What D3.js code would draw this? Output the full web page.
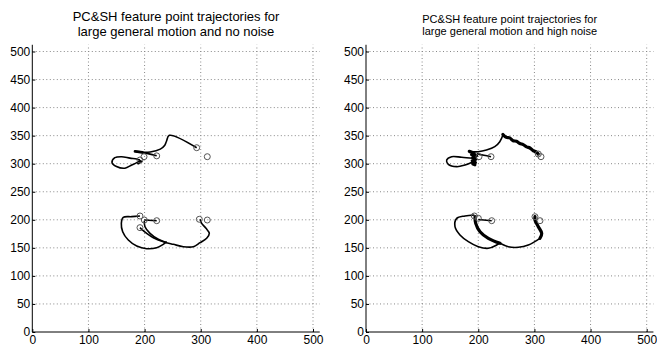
<!DOCTYPE html>
<html><head><meta charset="utf-8">
<script src="https://cdn.jsdelivr.net/npm/d3@7"></script>
<style>body{margin:0;background:#fff}svg{display:block}text{font-family:"Liberation Sans",Arial,sans-serif;fill:#000}</style>
</head><body>
<script>
// ---- data ----
const xTicks = [0,100,200,300,400,500];
const yTicks = [0,50,100,150,200,250,300,350,400,450,500];
const titlesLeft = ["PC&SH feature point trajectories for","large general motion and no noise"];
const titlesRight = ["PC&SH feature point trajectories for","large general motion and high noise"];

// left panel (no noise) trajectories
const leftTraj = [
  [[292.8,328.5],[244,350.6],[239,340],[236,333],[228,326],[210,321],[186,321]],
  [[221.6,314],[208,317.5],[195,320]],
  [[191.8,306.6],[186,308.5],[174,310],[159,312.5],[147,310.7],[142,302],[150,295],[165,292],[177,297.7],[186,302],[192,306]],
  [[191.8,206.8],[177,205.6],[162,204.4],[158.6,193.7],[161,178.8],[171,164],[186,153.3],[203.8,148.5],[221.6,150.3],[233.4,156.3],[239.4,161]],
  [[191.8,186],[194.9,183],[203.8,175.9],[215.6,168.1],[233.4,161],[251.2,156.3],[269,152],[286.8,152],[298.7,159.2],[310.6,167],[315.3,175.9],[309.4,184.8],[301.7,193.7],[298.7,200.9]],
  [[199.5,198.4],[200.7,187.7],[209.7,175.9],[224.4,165.2],[239.4,159.2]],
  [[199.5,199.6],[221.6,198.4]]
];
const leftHeavy = [
  [[183,322],[190,321],[196,320]],
  [[189,301],[193,304]]
];
const leftCircles = [[199,312.5],[221.6,314],[292.8,328.5],[311.7,312.5],[191.8,306.6],
  [191.8,206.8],[199.5,199.6],[221.6,198.4],[191.8,186],[297.5,200.9],[311.7,199.6]];

// right panel (high noise) trajectories
const rightTraj = [
  [[244.6,353],[238.3,339.2],[229.4,330.3],[214.6,324.4],[199.6,321.4],[184.8,321.4]],
  [[222.7,312.5],[210,315],[197,318]],
  [[191.2,309.6],[170.4,311.4],[152.6,312.5],[143.7,306.6],[146.6,298.9],[161.6,294.7],[176.3,297.7],[191.2,303.6]],
  [[193,208.6],[176.3,206.8],[161.6,202.6],[158.5,187.7],[167.4,172.9],[182.3,161],[200.1,152],[217.9,149.2],[232.8,155.1],[238.7,159.2]],
  [[238.7,158.1],[253.5,152],[271.3,151],[289.1,155.1],[309.9,167]],
  [[200.1,200.5],[223.9,198.4]]
];
const rightHeavy = [
  [[244,352],[250,347],[256,346],[262,341],[268,340],[274,336],[280,334],[286,330],[292,328],[298,323],[303,321],[307,317]],
  [[184,322],[193,318],[188,316],[197,314],[190,311],[196,308],[189,305],[195,302],[190,300],[194,298]],
  [[194.2,205.6],[195.4,193.7],[203.1,178.8],[217.9,167],[238.7,158.1]],
  [[301,205.6],[301,199.6],[306.9,187.7],[313,175.9],[309.9,167]]
];
const rightCircles = [[201.3,312.5],[222.7,312.5],[311.7,312.5],[306.9,317.3],
  [193,206.8],[200.1,202.7],[223.9,198.4],[309.9,198.4],[301,205.5]];

// ---- drawing ----
const W = 657, H = 347;
const svg = d3.select("body").append("svg").attr("width", W).attr("height", H);

function panel(x0, titles, titleSize, t1y, t2y, traj, heavy, heavyW, circles) {
  const x = d3.scaleLinear().domain([0,512]).range([x0, x0 + 512*0.5614]);
  const y = d3.scaleLinear().domain([0,512]).range([332, 332 - 512*0.561]);
  const g = svg.append("g");
  // grid
  g.selectAll(".gx").data(xTicks.filter(d=>d>0)).enter().append("line")
    .attr("x1", d=>x(d)).attr("x2", d=>x(d)).attr("y1", y(0)).attr("y2", y(512))
    .attr("stroke", "#888").attr("stroke-dasharray", "1,2.5");
  g.selectAll(".gy").data(yTicks.filter(d=>d>0)).enter().append("line")
    .attr("y1", d=>y(d)).attr("y2", d=>y(d)).attr("x1", x(0)).attr("x2", x(512))
    .attr("stroke", "#888").attr("stroke-dasharray", "1,2.5");
  // axes
  const ax = g.append("g").attr("transform", `translate(0,${y(0)})`)
    .call(d3.axisBottom(x).tickValues(xTicks).tickSize(-3).tickPadding(3.5));
  const ay = g.append("g").attr("transform", `translate(${x(0)},0)`)
    .call(d3.axisLeft(y).tickValues(yTicks).tickSize(-3).tickPadding(2));
  [ax, ay].forEach(a => {
    a.selectAll("text").attr("font-size", 12).attr("font-family", "Liberation Sans, Arial, sans-serif");
    a.selectAll(".tick line").attr("stroke", "#000");
  });
  ax.select(".domain").remove(); ay.select(".domain").remove();
  g.append("line").attr("x1", x(0)).attr("x2", x(512)).attr("y1", y(0)).attr("y2", y(0)).attr("stroke", "#000");
  g.append("line").attr("x1", x(0)).attr("x2", x(0)).attr("y1", y(0)).attr("y2", y(512)).attr("stroke", "#000");
  // trajectories
  const line = d3.line().x(d=>x(d[0])).y(d=>y(d[1])).curve(d3.curveCatmullRom);
  g.selectAll(".tr").data(traj).enter().append("path").attr("d", line)
    .attr("fill", "none").attr("stroke", "#000").attr("stroke-width", 1.6).attr("stroke-linejoin", "round");
  g.selectAll(".hv").data(heavy).enter().append("path").attr("d", line)
    .attr("fill", "none").attr("stroke", "#000").attr("stroke-width", heavyW).attr("stroke-linejoin", "round").attr("stroke-linecap", "round");
  g.selectAll(".c").data(circles).enter().append("circle")
    .attr("cx", d=>x(d[0])).attr("cy", d=>y(d[1])).attr("r", 3)
    .attr("fill", "none").attr("stroke", "#555").attr("stroke-width", 1);
  // title
  const cx = (x(0) + x(512)) / 2;
  g.append("text").attr("x", cx).attr("y", t1y).attr("text-anchor", "middle").attr("font-size", titleSize).text(titles[0]);
  g.append("text").attr("x", cx).attr("y", t2y).attr("text-anchor", "middle").attr("font-size", titleSize).text(titles[1]);
}

panel(32.3, titlesLeft, 13, 20.5, 35.5, leftTraj, leftHeavy, 2.8, leftCircles);
panel(366, titlesRight, 11, 23, 35, rightTraj, rightHeavy, 3.2, rightCircles);
</script>
</body></html>
